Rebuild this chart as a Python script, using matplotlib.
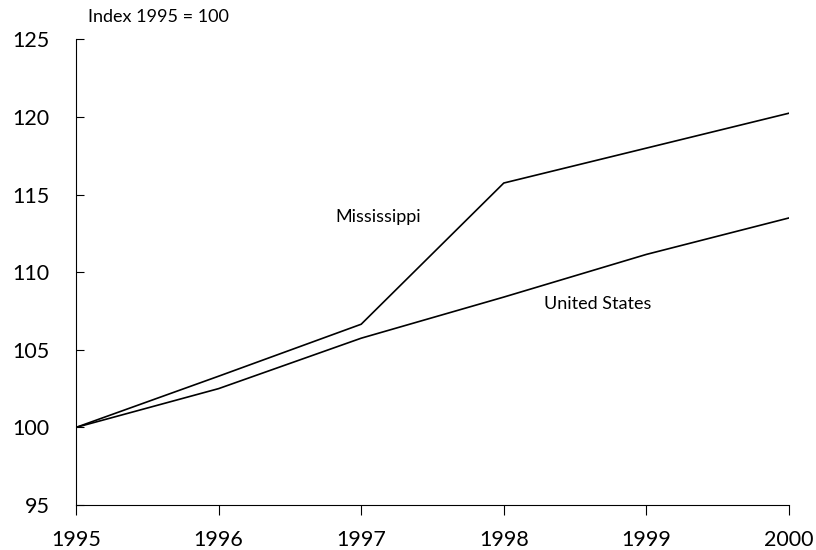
import matplotlib.pyplot as plt

years = [1995, 1996, 1997, 1998, 1999, 2000]
mississippi = [100, 103.3, 106.65, 115.75, 118.0, 120.25]
united_states = [100, 102.5, 105.75, 108.4, 111.15, 113.5]

plt.rcParams['font.family'] = ['Lato', 'DejaVu Sans']

fig = plt.figure(figsize=(8.16, 5.5), dpi=100)
ax = fig.add_axes([0.0931, 0.0818, 0.8738, 0.8464])

ax.plot(years, mississippi, color='black', lw=1.2)
ax.plot(years, united_states, color='black', lw=1.2)

ax.set_xlim(1995, 2000)
ax.set_ylim(95, 125)
ax.set_xticks(years)
ax.set_yticks(range(95, 126, 5))

ax.spines['top'].set_visible(False)
ax.spines['right'].set_visible(False)
ax.tick_params(axis='y', direction='in', length=6, pad=19, labelsize=15.5)
ax.tick_params(axis='x', direction='out', length=7, pad=11, labelsize=15.5)

ax.text(1997.12, 113.56, 'Mississippi', fontsize=13, ha='center', va='center')
ax.text(1998.66, 107.95, 'United States', fontsize=13, ha='center', va='center')
fig.text(88 / 816, 1 - 17 / 550, 'Index 1995 = 100', fontsize=13, ha='left', va='center')

fig.savefig('out.png', dpi=100)
